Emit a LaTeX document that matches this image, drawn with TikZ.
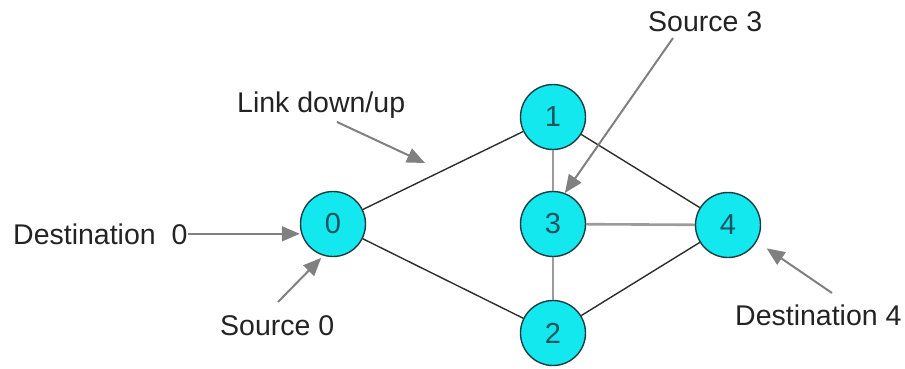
\documentclass[tikz,border=0pt]{standalone}
\usepackage{fontspec}
\setmainfont{Liberation Sans}
\usetikzlibrary{arrows.meta}
\definecolor{nodefill}{RGB}{18,232,238}
\definecolor{nodeline}{RGB}{30,60,66}
\definecolor{digit}{RGB}{25,85,95}
\definecolor{linkdark}{RGB}{45,45,45}
\definecolor{linklight}{RGB}{155,155,155}
\definecolor{pointer}{RGB}{128,128,128}
\definecolor{label}{RGB}{35,35,35}
\tikzset{
  router/.style={circle, draw=nodeline, line width=1.4pt, fill=nodefill,
    minimum size=65pt, inner sep=0pt, text=digit,
    font=\fontsize{29}{32}\selectfont},
  caption/.style={inner sep=0pt, anchor=base west, text=label,
    font=\fontsize{28.5}{32}\selectfont},
  darklink/.style={draw=linkdark, line width=1.4pt},
  lightlink/.style={draw=linklight, line width=2.6pt},
  pointer/.style={draw=pointer, line width=2pt,
    -{Triangle[length=18pt,width=15pt]}}
}
\begin{document}
\begin{tikzpicture}[x=1pt,y=-1pt]
  \useasboundingbox (0,0) rectangle (905,369);

  % routers
  \node[router] (n0) at (333,224) {0};
  \node[router] (n1) at (553,117) {1};
  \node[router] (n3) at (553,224) {3};
  \node[router] (n2) at (553,333) {2};
  \node[router] (n4) at (728,225) {4};

  % links
  \draw[darklink] (n0) -- (n1);
  \draw[darklink] (n0) -- (n2);
  \draw[darklink] (n1) -- (n4);
  \draw[darklink] (n2) -- (n4);
  \draw[lightlink] (n1) -- (n3);
  \draw[lightlink] (n3) -- (n2);
  \draw[lightlink] (n3) -- (n4);

  % captions
  \node[caption] (dst0) at (13,244) {Destination~~0};
  \node[caption] (src0) at (220,335) {Source 0};
  \node[caption] (link) at (237,112) {Link down/up};
  \node[caption] (src3) at (648,32) {Source 3};
  \node[caption] (dst4) at (735,325) {Destination 4};

  % pointer tails and free ends
  \coordinate (src0tail) at (278,302);
  \coordinate (linktail) at (337,122);
  \coordinate (linkhead) at (425,163);
  \coordinate (src3tail) at (673,38);
  \coordinate (dst4tail) at (832,293);

  % pointers
  \draw[pointer] (dst0.east) -- (dst0.east -| n0.west);
  \draw[pointer, shorten >=3pt] (src0tail) -- (n0.253);
  \draw[pointer] (linktail) -- (linkhead);
  \draw[pointer] (src3tail) -- (n3.69);
  \draw[pointer, shorten >=12pt] (dst4tail) -- (n4.-30);
\end{tikzpicture}
\end{document}
